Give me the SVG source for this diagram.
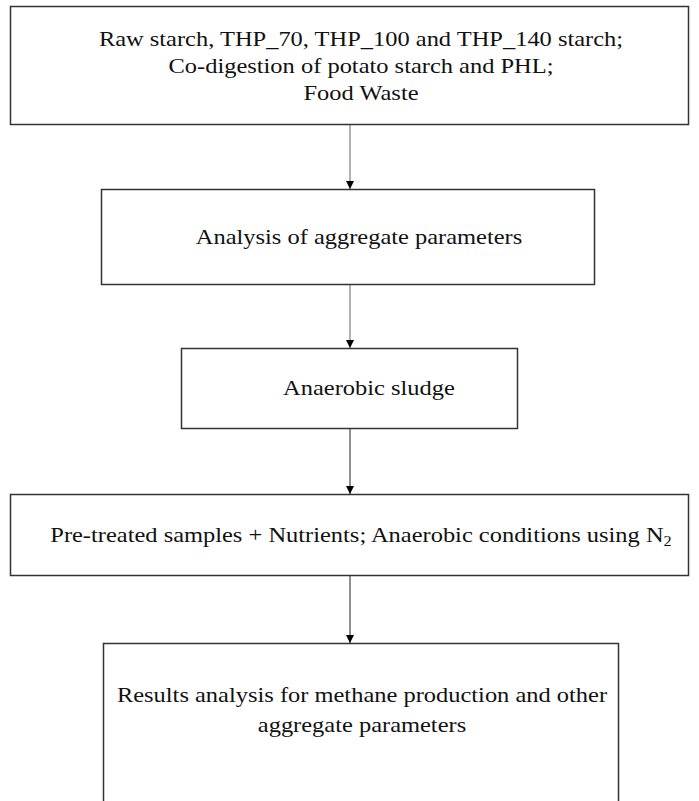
<svg xmlns="http://www.w3.org/2000/svg" width="699" height="801" viewBox="0 0 699 801">
<style>
.box{fill:#fff;stroke:#333;stroke-width:1.5}
.t{font-family:"Liberation Serif","Times New Roman",serif;font-size:21px;fill:#111;text-anchor:middle}
.c{stroke:#555;stroke-width:1.3;fill:none}
.cg{stroke:#999;stroke-width:1.5;fill:none}
</style>
<defs>
<marker id="ah" markerWidth="8" markerHeight="8" refX="8" refY="4" orient="auto" markerUnits="userSpaceOnUse">
<path d="M0,0 L8,4 L0,8 Z" fill="#000"/>
</marker>
</defs>
<rect width="699" height="801" fill="#fff"/>
<g id="connectors">
<line class="cg" x1="350" y1="125" x2="350" y2="189" marker-end="url(#ah)"/>
<line class="cg" x1="350" y1="285" x2="350" y2="348" marker-end="url(#ah)"/>
<line class="c" x1="350" y1="429" x2="350" y2="494" marker-end="url(#ah)"/>
<line class="c" x1="350" y1="576" x2="350" y2="643" marker-end="url(#ah)"/>
</g>
<g id="n1">
<rect class="box" x="10.5" y="6.5" width="678" height="118"/>
<g transform="translate(361,0) scale(1.165,1)">
<text class="t" x="0" y="46">Raw starch, THP_70, THP_100 and THP_140 starch;</text>
<text class="t" x="0" y="73">Co-digestion of potato starch and PHL;</text>
<text class="t" x="0" y="100">Food Waste</text>
</g>
</g>
<g id="n2">
<rect class="box" x="101.5" y="189.5" width="493" height="95"/>
<g transform="translate(359,0) scale(1.165,1)">
<text class="t" x="0" y="244">Analysis of aggregate parameters</text>
</g>
</g>
<g id="n3">
<rect class="box" x="181.5" y="348.5" width="336" height="80"/>
<g transform="translate(369,0) scale(1.165,1)">
<text class="t" x="0" y="395">Anaerobic sludge</text>
</g>
</g>
<g id="n4">
<rect class="box" x="10.5" y="494.5" width="678" height="81"/>
<g transform="translate(361,0) scale(1.165,1)">
<text class="t" x="0" y="542">Pre-treated samples + Nutrients; Anaerobic conditions using N<tspan font-size="14" dy="4">2</tspan></text>
</g>
</g>
<g id="n5">
<rect class="box" x="103.5" y="643.5" width="515" height="180"/>
<g transform="translate(362,0) scale(1.165,1)">
<text class="t" x="0" y="702">Results analysis for methane production and other</text>
<text class="t" x="0" y="732">aggregate parameters</text>
</g>
</g>
</svg>
